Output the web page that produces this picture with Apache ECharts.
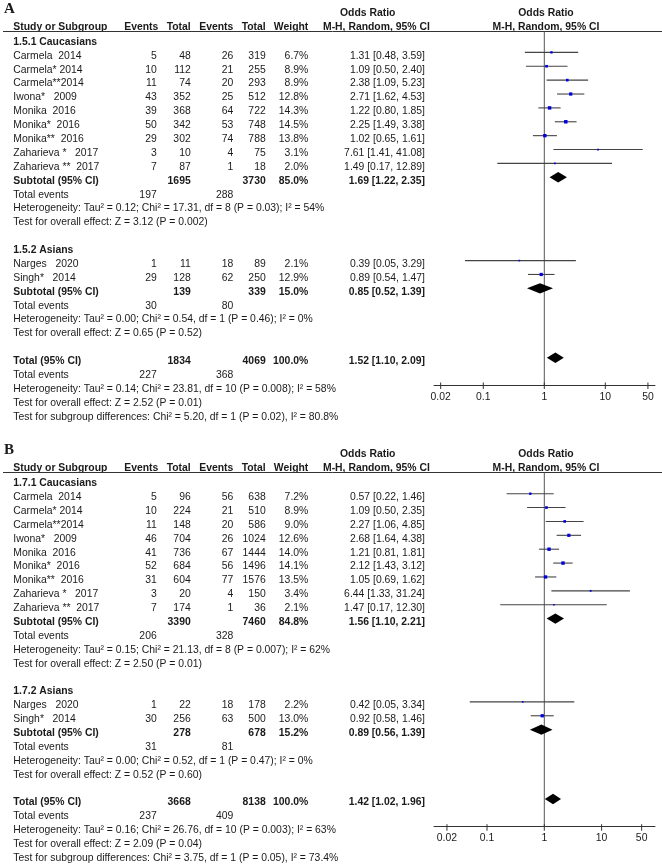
<!DOCTYPE html>
<html><head><meta charset="utf-8">
<script src="https://cdn.jsdelivr.net/npm/echarts@6/dist/echarts.min.js"></script>
<style>html,body{margin:0;padding:0;background:#fff}#c{width:662px;height:867px}</style>
</head><body><div id="c"></div>
<script>
// ================= DATA: Panel A (1.5) =================
const panelLabelA = 'A';
const groupTitlesA = ['1.5.1 Caucasians', '1.5.2 Asians'];
const namesA1 = ['Carmela  2014', 'Carmela* 2014', 'Carmela**2014', 'Iwona*   2009', 'Monika  2016', 'Monika*  2016', 'Monika**  2016', 'Zaharieva *   2017', 'Zaharieva **  2017'];
const expEventsA1 = [5, 10, 11, 43, 39, 50, 29, 3, 7];
const expTotalA1 = [48, 112, 74, 352, 368, 342, 302, 10, 87];
const ctlEventsA1 = [26, 21, 20, 25, 64, 53, 74, 4, 1];
const ctlTotalA1 = [319, 255, 293, 512, 722, 748, 788, 75, 18];
const weightA1 = [6.7, 8.9, 8.9, 12.8, 14.3, 14.5, 13.8, 3.1, 2.0];
const orA1 = [1.31, 1.09, 2.38, 2.71, 1.22, 2.25, 1.02, 7.61, 1.49];
const loA1 = [0.48, 0.50, 1.09, 1.62, 0.80, 1.49, 0.65, 1.41, 0.17];
const hiA1 = [3.59, 2.40, 5.23, 4.53, 1.85, 3.38, 1.61, 41.08, 12.89];
const namesA2 = ['Narges   2020', 'Singh*   2014'];
const expEventsA2 = [1, 29];
const expTotalA2 = [11, 128];
const ctlEventsA2 = [18, 62];
const ctlTotalA2 = [89, 250];
const weightA2 = [2.1, 12.9];
const orA2 = [0.39, 0.89];
const loA2 = [0.05, 0.54];
const hiA2 = [3.29, 1.47];
// subtotals per group: [Caucasians, Asians]
const subExpTotalA = [1695, 139];
const subCtlTotalA = [3730, 339];
const subWeightA = [85.0, 15.0];
const subOrA = [1.69, 0.85];
const subLoA = [1.22, 0.52];
const subHiA = [2.35, 1.39];
const subExpEventsA = [197, 30];
const subCtlEventsA = [288, 80];
const subHetA = ['Heterogeneity: Tau\u00b2 = 0.12; Chi\u00b2 = 17.31, df = 8 (P = 0.03); I\u00b2 = 54%', 'Heterogeneity: Tau\u00b2 = 0.00; Chi\u00b2 = 0.54, df = 1 (P = 0.46); I\u00b2 = 0%'];
const subTestA = ['Test for overall effect: Z = 3.12 (P = 0.002)', 'Test for overall effect: Z = 0.65 (P = 0.52)'];
// overall
const totalA = [1834, 4069, 100.0];
const totalOrA = [1.52, 1.10, 2.09];
const totalEventsA = [227, 368];
const totalTextA = ['Heterogeneity: Tau\u00b2 = 0.14; Chi\u00b2 = 23.81, df = 10 (P = 0.008); I\u00b2 = 58%', 'Test for overall effect: Z = 2.52 (P = 0.01)', 'Test for subgroup differences: Chi\u00b2 = 5.20, df = 1 (P = 0.02), I\u00b2 = 80.8%'];

// ================= DATA: Panel B (1.7) =================
const panelLabelB = 'B';
const groupTitlesB = ['1.7.1 Caucasians', '1.7.2 Asians'];
const namesB1 = ['Carmela  2014', 'Carmela* 2014', 'Carmela**2014', 'Iwona*   2009', 'Monika  2016', 'Monika*  2016', 'Monika**  2016', 'Zaharieva *   2017', 'Zaharieva **  2017'];
const expEventsB1 = [5, 10, 11, 46, 41, 52, 31, 3, 7];
const expTotalB1 = [96, 224, 148, 704, 736, 684, 604, 20, 174];
const ctlEventsB1 = [56, 21, 20, 26, 67, 56, 77, 4, 1];
const ctlTotalB1 = [638, 510, 586, 1024, 1444, 1496, 1576, 150, 36];
const weightB1 = [7.2, 8.9, 9.0, 12.6, 14.0, 14.1, 13.5, 3.4, 2.1];
const orB1 = [0.57, 1.09, 2.27, 2.68, 1.21, 2.12, 1.05, 6.44, 1.47];
const loB1 = [0.22, 0.50, 1.06, 1.64, 0.81, 1.43, 0.69, 1.33, 0.17];
const hiB1 = [1.46, 2.35, 4.85, 4.38, 1.81, 3.12, 1.62, 31.24, 12.30];
const namesB2 = ['Narges   2020', 'Singh*   2014'];
const expEventsB2 = [1, 30];
const expTotalB2 = [22, 256];
const ctlEventsB2 = [18, 63];
const ctlTotalB2 = [178, 500];
const weightB2 = [2.2, 13.0];
const orB2 = [0.42, 0.92];
const loB2 = [0.05, 0.58];
const hiB2 = [3.34, 1.46];
const subExpTotalB = [3390, 278];
const subCtlTotalB = [7460, 678];
const subWeightB = [84.8, 15.2];
const subOrB = [1.56, 0.89];
const subLoB = [1.10, 0.56];
const subHiB = [2.21, 1.39];
const subExpEventsB = [206, 31];
const subCtlEventsB = [328, 81];
const subHetB = ['Heterogeneity: Tau\u00b2 = 0.15; Chi\u00b2 = 21.13, df = 8 (P = 0.007); I\u00b2 = 62%', 'Heterogeneity: Tau\u00b2 = 0.00; Chi\u00b2 = 0.52, df = 1 (P = 0.47); I\u00b2 = 0%'];
const subTestB = ['Test for overall effect: Z = 2.50 (P = 0.01)', 'Test for overall effect: Z = 0.52 (P = 0.60)'];
const totalB = [3668, 8138, 100.0];
const totalOrB = [1.42, 1.02, 1.96];
const totalEventsB = [237, 409];
const totalTextB = ['Heterogeneity: Tau\u00b2 = 0.16; Chi\u00b2 = 26.76, df = 10 (P = 0.003); I\u00b2 = 63%', 'Test for overall effect: Z = 2.09 (P = 0.04)', 'Test for subgroup differences: Chi\u00b2 = 3.75, df = 1 (P = 0.05), I\u00b2 = 73.4%'];

// axis tick labels (both panels)
const tickValues = [0.02, 0.1, 1, 10, 50];
const tickLabels = ['0.02', '0.1', '1', '10', '50'];
const headerCols = ['Study or Subgroup', 'Events', 'Total', 'Events', 'Total', 'Weight', 'M-H, Random, 95% CI', 'M-H, Random, 95% CI'];
const headerTop = ['Odds Ratio', 'Odds Ratio'];

// ================= LAYOUT =================
const FONT = '"Liberation Sans", Arial, sans-serif';
const FS = 10.4;
const TXT = '#1a1a1a';
const COL = { name: 13.3, e1: 156.7, t1: 190.7, e2: 233.3, t2: 265.7, w: 308.3, or: 425, hdrMH: 323, hdrOR: 340, plotC: 546 };
const PLOT = { left: 434, right: 655, oneX: 544.3 };
const layoutA = { labelY: 9.5, h1Y: 13.3, h2Y: 27, lineY: 31.5, row0Y: 42, step: 13.88, axisY: 385, decadePx: 61, markOff: 3.5 };
const layoutB = { labelY: 450, h1Y: 454.3, h2Y: 468.3, lineY: 472.5, row0Y: 483.3, step: 13.88, axisY: 826.7, decadePx: 57.3, markOff: 3.5 };

function T(x, y, text, align, bold, size, family) {
  return {
    type: 'text', x: x, y: y, silent: true,
    style: {
      text: String(text), fill: TXT,
      font: (bold ? 'bold ' : '') + (size || FS) + 'px ' + (family || FONT),
      textAlign: align || 'left', align: align || 'left',
      textVerticalAlign: 'middle', verticalAlign: 'middle'
    }
  };
}
const fmtOR = (o, l, h) => o.toFixed(2) + ' [' + l.toFixed(2) + ', ' + h.toFixed(2) + ']';
const fmtW = w => w.toFixed(1) + '%';

const graphics = [];
const grids = [], xAxes = [], yAxes = [], series = [];

function buildPanel(pi, L, label, titles, groups, sub, total) {
  const rowY = i => L.row0Y + i * L.step;
  const g = graphics;
  g.push(T(4, L.labelY, label, 'left', true, 15, '"Liberation Serif", "Times New Roman", serif'));
  g.push(T(COL.hdrOR, L.h1Y, headerTop[0], 'left', true));
  g.push(T(COL.plotC, L.h1Y, headerTop[1], 'center', true));
  g.push(T(COL.name, L.h2Y, headerCols[0], 'left', true));
  g.push(T(COL.e1 + 1.6, L.h2Y, headerCols[1], 'right', true));
  g.push(T(COL.t1, L.h2Y, headerCols[2], 'right', true));
  g.push(T(COL.e2, L.h2Y, headerCols[3], 'right', true));
  g.push(T(COL.t2, L.h2Y, headerCols[4], 'right', true));
  g.push(T(COL.w, L.h2Y, headerCols[5], 'right', true));
  g.push(T(COL.hdrMH, L.h2Y, headerCols[6], 'left', true));
  g.push(T(COL.plotC, L.h2Y, headerCols[7], 'center', true));
  g.push({ type: 'line', silent: true, shape: { x1: 3, y1: L.lineY, x2: 662, y2: L.lineY }, style: { stroke: '#333', lineWidth: 1 } });

  const items = [];
  let idx = 0;
  groups.forEach((gr, k) => {
    g.push(T(COL.name, rowY(idx), titles[k], 'left', true));
    idx++;
    gr.names.forEach((nm, j) => {
      const y = rowY(idx);
      g.push(T(COL.name, y, nm, 'left'));
      g.push(T(COL.e1, y, gr.e1[j], 'right'));
      g.push(T(COL.t1, y, gr.t1[j], 'right'));
      g.push(T(COL.e2, y, gr.e2[j], 'right'));
      g.push(T(COL.t2, y, gr.t2[j], 'right'));
      g.push(T(COL.w, y, fmtW(gr.w[j]), 'right'));
      g.push(T(COL.or, y, fmtOR(gr.or[j], gr.lo[j], gr.hi[j]), 'right'));
      items.push({ or: gr.or[j], lo: gr.lo[j], hi: gr.hi[j], row: idx, w: gr.w[j], diamond: false });
      idx++;
    });
    let y = rowY(idx);
    g.push(T(COL.name, y, 'Subtotal (95% CI)', 'left', true));
    g.push(T(COL.t1, y, sub.t1[k], 'right', true));
    g.push(T(COL.t2, y, sub.t2[k], 'right', true));
    g.push(T(COL.w, y, fmtW(sub.w[k]), 'right', true));
    g.push(T(COL.or, y, fmtOR(sub.or[k], sub.lo[k], sub.hi[k]), 'right', true));
    items.push({ or: sub.or[k], lo: sub.lo[k], hi: sub.hi[k], row: idx, diamond: true });
    idx++;
    y = rowY(idx);
    g.push(T(COL.name, y, 'Total events', 'left'));
    g.push(T(COL.e1, y, sub.e1[k], 'right'));
    g.push(T(COL.e2, y, sub.e2[k], 'right'));
    idx++;
    g.push(T(COL.name, rowY(idx), sub.het[k], 'left')); idx++;
    g.push(T(COL.name, rowY(idx), sub.test[k], 'left')); idx++;
    idx++; // blank row
  });
  let y = rowY(idx);
  g.push(T(COL.name, y, 'Total (95% CI)', 'left', true));
  g.push(T(COL.t1, y, total.n[0], 'right', true));
  g.push(T(COL.t2, y, total.n[1], 'right', true));
  g.push(T(COL.w, y, fmtW(total.n[2]), 'right', true));
  g.push(T(COL.or, y, fmtOR(total.or[0], total.or[1], total.or[2]), 'right', true));
  items.push({ or: total.or[0], lo: total.or[1], hi: total.or[2], row: idx, diamond: true });
  idx++;
  y = rowY(idx);
  g.push(T(COL.name, y, 'Total events', 'left'));
  g.push(T(COL.e1, y, total.ev[0], 'right'));
  g.push(T(COL.e2, y, total.ev[1], 'right'));
  idx++;
  total.txt.forEach(s => { g.push(T(COL.name, rowY(idx), s, 'left')); idx++; });

  // ---- plot grid ----
  const markY0 = L.row0Y - L.markOff;
  const yMin = (L.lineY - markY0) / L.step;
  const yMax = (L.axisY - markY0) / L.step;
  const xMin = Math.pow(10, (PLOT.left - PLOT.oneX) / L.decadePx);
  const xMax = Math.pow(10, (PLOT.right - PLOT.oneX) / L.decadePx);
  grids.push({ left: PLOT.left, width: PLOT.right - PLOT.left, top: L.lineY, height: L.axisY - L.lineY, containLabel: false });
  xAxes.push({
    type: 'log', logBase: 10, gridIndex: pi, min: xMin, max: xMax, position: 'bottom',
    axisLine: { show: true, onZero: false, lineStyle: { color: '#333', width: 1 } },
    axisTick: { show: false }, axisLabel: { show: false }, splitLine: { show: false }
  });
  yAxes.push({ type: 'value', gridIndex: pi, inverse: true, min: yMin, max: yMax, show: false });

  // reference line at OR = 1
  series.push({
    type: 'custom', xAxisIndex: pi, yAxisIndex: pi, silent: true, animation: false, clip: false,
    data: [[1, yMin]],
    renderItem: (params, api) => {
      const a = api.coord([1, yMin]), b = api.coord([1, yMax]);
      return { type: 'line', shape: { x1: a[0], y1: a[1], x2: b[0], y2: b[1] }, style: { stroke: '#555', lineWidth: 1 } };
    }
  });
  // studies and diamonds
  series.push({
    type: 'custom', xAxisIndex: pi, yAxisIndex: pi, silent: true, animation: false, clip: false,
    data: items.map(it => [it.or, it.row]),
    renderItem: (params, api) => {
      const it = items[params.dataIndex];
      const c = api.coord([it.or, it.row]);
      const l = api.coord([it.lo, it.row]);
      const h = api.coord([it.hi, it.row]);
      if (it.diamond) {
        const hh = 5.2;
        return { type: 'polygon', shape: { points: [[l[0], c[1]], [c[0], c[1] - hh], [h[0], c[1]], [c[0], c[1] + hh]] }, style: { fill: '#000' } };
      }
      const s = 1.3 + 0.15 * it.w;
      return { type: 'group', children: [
        { type: 'line', shape: { x1: l[0], y1: c[1], x2: h[0], y2: c[1] }, style: { stroke: '#444', lineWidth: 1.1 } },
        { type: 'rect', shape: { x: c[0] - s / 2, y: c[1] - s / 2, width: s, height: s }, style: { fill: '#0000dd' } }
      ] };
    }
  });
  // axis ticks + labels
  series.push({
    type: 'custom', xAxisIndex: pi, yAxisIndex: pi, silent: true, animation: false, clip: false,
    data: tickValues.map(v => [v, yMax]),
    renderItem: (params, api) => {
      const p = api.coord([tickValues[params.dataIndex], yMax]);
      return { type: 'group', children: [
        { type: 'line', shape: { x1: p[0], y1: p[1] - 2.5, x2: p[0], y2: p[1] + 4 }, style: { stroke: '#333', lineWidth: 1 } },
        { type: 'text', x: p[0], y: p[1] + 11.7, style: { text: tickLabels[params.dataIndex], fill: TXT, font: FS + 'px ' + FONT, textAlign: 'center', align: 'center', textVerticalAlign: 'middle', verticalAlign: 'middle' } }
      ] };
    }
  });
}

buildPanel(0, layoutA, panelLabelA, groupTitlesA,
  [{ names: namesA1, e1: expEventsA1, t1: expTotalA1, e2: ctlEventsA1, t2: ctlTotalA1, w: weightA1, or: orA1, lo: loA1, hi: hiA1 },
   { names: namesA2, e1: expEventsA2, t1: expTotalA2, e2: ctlEventsA2, t2: ctlTotalA2, w: weightA2, or: orA2, lo: loA2, hi: hiA2 }],
  { t1: subExpTotalA, t2: subCtlTotalA, w: subWeightA, or: subOrA, lo: subLoA, hi: subHiA, e1: subExpEventsA, e2: subCtlEventsA, het: subHetA, test: subTestA },
  { n: totalA, or: totalOrA, ev: totalEventsA, txt: totalTextA });
buildPanel(1, layoutB, panelLabelB, groupTitlesB,
  [{ names: namesB1, e1: expEventsB1, t1: expTotalB1, e2: ctlEventsB1, t2: ctlTotalB1, w: weightB1, or: orB1, lo: loB1, hi: hiB1 },
   { names: namesB2, e1: expEventsB2, t1: expTotalB2, e2: ctlEventsB2, t2: ctlTotalB2, w: weightB2, or: orB2, lo: loB2, hi: hiB2 }],
  { t1: subExpTotalB, t2: subCtlTotalB, w: subWeightB, or: subOrB, lo: subLoB, hi: subHiB, e1: subExpEventsB, e2: subCtlEventsB, het: subHetB, test: subTestB },
  { n: totalB, or: totalOrB, ev: totalEventsB, txt: totalTextB });

const chart = echarts.init(document.getElementById('c'), null, { renderer: 'canvas' });
chart.setOption({
  animation: false,
  backgroundColor: '#fff',
  grid: grids, xAxis: xAxes, yAxis: yAxes, series: series,
  graphic: { elements: graphics }
});
</script>
</body></html>
